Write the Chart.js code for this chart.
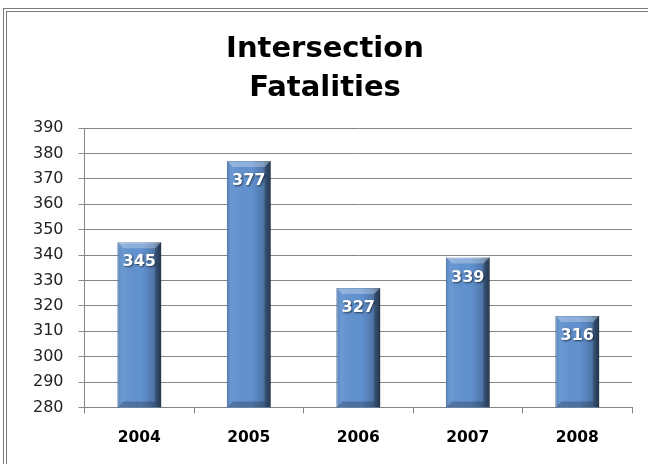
<!DOCTYPE html>
<html>
<head>
<meta charset="utf-8">
<script src="https://cdn.jsdelivr.net/npm/chart.js@4.4.1/dist/chart.umd.min.js"></script>
<style>
  html, body { margin: 0; padding: 0; background: #fff; overflow: hidden; }
  #wrap { position: relative; width: 648px; height: 464px; }
  #frame {
    position: absolute; left: 3px; top: 8px; width: 700px; height: 500px;
    border-top: 4px double #7a7a7a; border-left: 4px double #7a7a7a;
    pointer-events: none;
  }
</style>
</head>
<body>
<div id="wrap">
  <canvas id="barChart" width="648" height="464"></canvas>
  <div id="frame"></div>
</div>
<script>
// chart data
var years = ['2004', '2005', '2006', '2007', '2008'];
var fatalities = [345, 377, 327, 339, 316];
var yMin = 280, yMax = 390, yStep = 10;
var titleLines = ['Intersection', 'Fatalities'];

// bevel + shading over each bar, drawn from the bar elements chart.js laid out
var barShade = {
    id: 'barShade',
    afterDatasetsDraw: function(chart) {
        var ctx = chart.ctx;
        var area = chart.chartArea;
        var meta = chart.getDatasetMeta(0);
        meta.data.forEach(function(bar, i) {
            var left = bar.x - bar.width / 2;
            var right = bar.x + bar.width / 2;
            var top = bar.y;
            var bottom = Math.min(bar.base, area.bottom);
            var bv = 6;
            ctx.save();
            ctx.beginPath();
            ctx.rect(area.left, area.top, area.right - area.left, area.bottom - area.top);
            ctx.clip();
            var g = ctx.createLinearGradient(left, 0, right, 0);
            g.addColorStop(0, 'rgba(0,0,0,0.12)');
            g.addColorStop(0.12, 'rgba(255,255,255,0.06)');
            g.addColorStop(0.55, 'rgba(0,0,0,0)');
            g.addColorStop(0.82, 'rgba(0,0,0,0.18)');
            g.addColorStop(1, 'rgba(0,0,0,0.55)');
            ctx.fillStyle = g;
            ctx.fillRect(left, top, right - left, bottom - top);
            // top bevel
            ctx.beginPath();
            ctx.moveTo(left, top);
            ctx.lineTo(right, top);
            ctx.lineTo(right - bv, top + bv);
            ctx.lineTo(left + bv, top + bv);
            ctx.closePath();
            ctx.fillStyle = 'rgba(255,255,255,0.28)';
            ctx.fill();
            // bottom bevel
            ctx.beginPath();
            ctx.moveTo(left, bottom);
            ctx.lineTo(right, bottom);
            ctx.lineTo(right - bv, bottom - bv);
            ctx.lineTo(left + bv, bottom - bv);
            ctx.closePath();
            ctx.fillStyle = 'rgba(0,0,0,0.22)';
            ctx.fill();
            // right bevel
            ctx.beginPath();
            ctx.moveTo(right, top);
            ctx.lineTo(right, bottom);
            ctx.lineTo(right - bv, bottom - bv);
            ctx.lineTo(right - bv, top + bv);
            ctx.closePath();
            ctx.fillStyle = 'rgba(0,0,0,0.2)';
            ctx.fill();

            // value label
            ctx.font = 'bold 16px "DejaVu Sans"';
            ctx.textAlign = 'center';
            ctx.textBaseline = 'middle';
            ctx.shadowColor = 'rgba(0,0,0,0.6)';
            ctx.shadowBlur = 2;
            ctx.shadowOffsetX = 1;
            ctx.shadowOffsetY = 1;
            ctx.fillStyle = '#ffffff';
            ctx.fillText(String(fatalities[i]), bar.x, top + 20);
            ctx.restore();
        });
    }
};

var canvas = document.getElementById('barChart');
var chartInstance = new Chart(canvas, {
    type: 'bar',
    data: {
        labels: years,
        datasets: [{
            data: fatalities,
            backgroundColor: '#6192d0',
            borderColor: '#4a76ae',
            borderWidth: 1,
            categoryPercentage: 1,
            barPercentage: 0.4
        }]
    },
    options: {
        responsive: false,
        animation: false,
        layout: { padding: { left: 18, right: 16, top: 0, bottom: 2 } },
        plugins: {
            legend: { display: false },
            tooltip: { enabled: false },
            title: {
                display: true,
                text: titleLines,
                color: '#000',
                font: { family: '"DejaVu Sans"', size: 29, weight: 'bold', lineHeight: 1.345 },
                padding: { top: 30, bottom: 20 }
            }
        },
        scales: {
            x: {
                grid: {
                    offset: true,
                    drawOnChartArea: false,
                    tickLength: 6,
                    color: '#868686'
                },
                border: { display: true, color: '#868686' },
                ticks: {
                    color: '#000',
                    padding: 15,
                    font: { family: '"DejaVu Sans"', size: 15.5, weight: 'bold' }
                }
            },
            y: {
                min: yMin,
                max: yMax,
                grid: { color: '#868686', tickLength: 6 },
                border: { display: true, color: '#868686' },
                ticks: {
                    stepSize: yStep,
                    color: '#222',
                    padding: 15,
                    font: { family: '"DejaVu Sans"', size: 16 }
                }
            }
        }
    },
    plugins: [barShade]
});
</script>
</body>
</html>
